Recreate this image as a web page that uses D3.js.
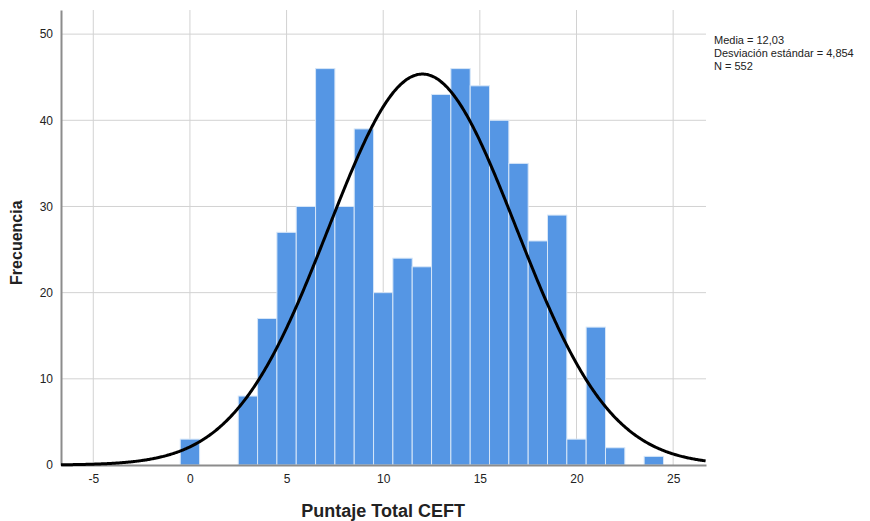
<!DOCTYPE html>
<html>
<head>
<meta charset="utf-8">
<script src="https://cdn.jsdelivr.net/npm/d3@7"></script>
<style>
  body { margin: 0; background: #fff; }
  svg { font-family: "Liberation Sans", Arial, sans-serif; }
</style>
</head>
<body>
<div id="hist"></div>
<script>
// histogram data (bin centres and counts)
var scores = [0, 3, 4, 5, 6, 7, 8, 9, 10, 11, 12, 13, 14, 15, 16, 17, 18, 19, 20, 21, 22, 24];
var counts = [3, 8, 17, 27, 30, 46, 30, 39, 20, 24, 23, 43, 46, 44, 40, 35, 26, 29, 3, 16, 2, 1];
var xTicks = [-5, 0, 5, 10, 15, 20, 25];
var yTicks = [0, 10, 20, 30, 40, 50];
var media = 12.03, desviacion = 4.854, n = 552;
var statLines = ["Media = 12,03", "Desviación estándar = 4,854", "N = 552"];

// set the dimensions and margins of the graph
var margin = {top: 10, right: 164, bottom: 56, left: 61},
    width = 870 - margin.left - margin.right,
    height = 521 - margin.top - margin.bottom;

var svg = d3.select("#hist")
  .append("svg")
    .attr("width", 870)
    .attr("height", 521)
  .append("g")
    .attr("transform", "translate(" + margin.left + "," + margin.top + ")");

var x = d3.scaleLinear()
  .domain([-6.67, 26.7])
  .range([0, width]);

var y = d3.scaleLinear()
  .domain([0, 52.8])
  .range([height, 0]);

// grid lines
svg.append("g")
  .selectAll("line.vg")
  .data(xTicks)
  .enter()
  .append("line")
    .attr("x1", function(d) { return x(d); })
    .attr("x2", function(d) { return x(d); })
    .attr("y1", 0)
    .attr("y2", height)
    .attr("stroke", "#d2d2d2")
    .attr("stroke-width", 1);

svg.append("g")
  .selectAll("line.hg")
  .data(yTicks.slice(1))
  .enter()
  .append("line")
    .attr("x1", 0)
    .attr("x2", width)
    .attr("y1", function(d) { return y(d); })
    .attr("y2", function(d) { return y(d); })
    .attr("stroke", "#d2d2d2")
    .attr("stroke-width", 1);

// bars
svg.append("g")
  .selectAll("rect")
  .data(scores)
  .enter()
  .append("rect")
    .attr("x", function(d) { return x(d - 0.5); })
    .attr("width", function(d) { return x(d + 0.5) - x(d - 0.5); })
    .attr("y", function(d, i) { return y(counts[i]); })
    .attr("height", function(d, i) { return height - y(counts[i]); })
    .attr("fill", "#5596e4")
    .attr("stroke", "#d6e6f8")
    .attr("stroke-width", 1);

// X axis (plain hyphen for negatives, like the original)
var xAxis = svg.append("g")
  .attr("transform", "translate(0," + height + ")")
  .call(d3.axisBottom(x).tickValues(xTicks).tickSize(0).tickPadding(9)
    .tickFormat(function(d) { return String(d); }));
xAxis.select(".domain").attr("stroke", "#8c8c8c").attr("stroke-width", 2);

// Y axis
var yAxis = svg.append("g")
  .call(d3.axisLeft(y).tickValues(yTicks).tickSize(0).tickPadding(8));
yAxis.select(".domain").attr("stroke", "#8c8c8c").attr("stroke-width", 2);

svg.selectAll(".tick text")
  .attr("font-size", 12)
  .attr("font-family", "Liberation Sans, Arial, sans-serif")
  .attr("fill", "#222");

// normal curve from the reported mean and standard deviation
var curveX = d3.range(-6.67, 26.71, 0.05);
var line = d3.line()
  .x(function(d) { return x(d); })
  .y(function(d) {
    var z = (d - media) / desviacion;
    return y(n * Math.exp(-0.5 * z * z) / (desviacion * Math.sqrt(2 * Math.PI)));
  })
  .curve(d3.curveBasis);

svg.append("path")
  .datum(curveX)
  .attr("d", line)
  .attr("fill", "none")
  .attr("stroke", "#000")
  .attr("stroke-width", 3);

// axis labels
svg.append("text")
  .attr("text-anchor", "middle")
  .attr("x", x(10))
  .attr("y", height + 52)
  .attr("font-size", 18)
  .attr("font-weight", "bold")
  .attr("fill", "#222")
  .text("Puntaje Total CEFT");

svg.append("text")
  .attr("text-anchor", "middle")
  .attr("transform", "rotate(-90)")
  .attr("x", -y(25.8))
  .attr("y", -39)
  .attr("font-size", 16)
  .attr("font-weight", "bold")
  .attr("fill", "#222")
  .text("Frecuencia");

// stats box
svg.append("g")
  .selectAll("text.stat")
  .data(statLines)
  .enter()
  .append("text")
    .attr("x", width + 8)
    .attr("y", function(d, i) { return 34 + i * 13; })
    .attr("font-size", 11)
    .attr("fill", "#222")
    .text(function(d) { return d; });
</script>
</body>
</html>
